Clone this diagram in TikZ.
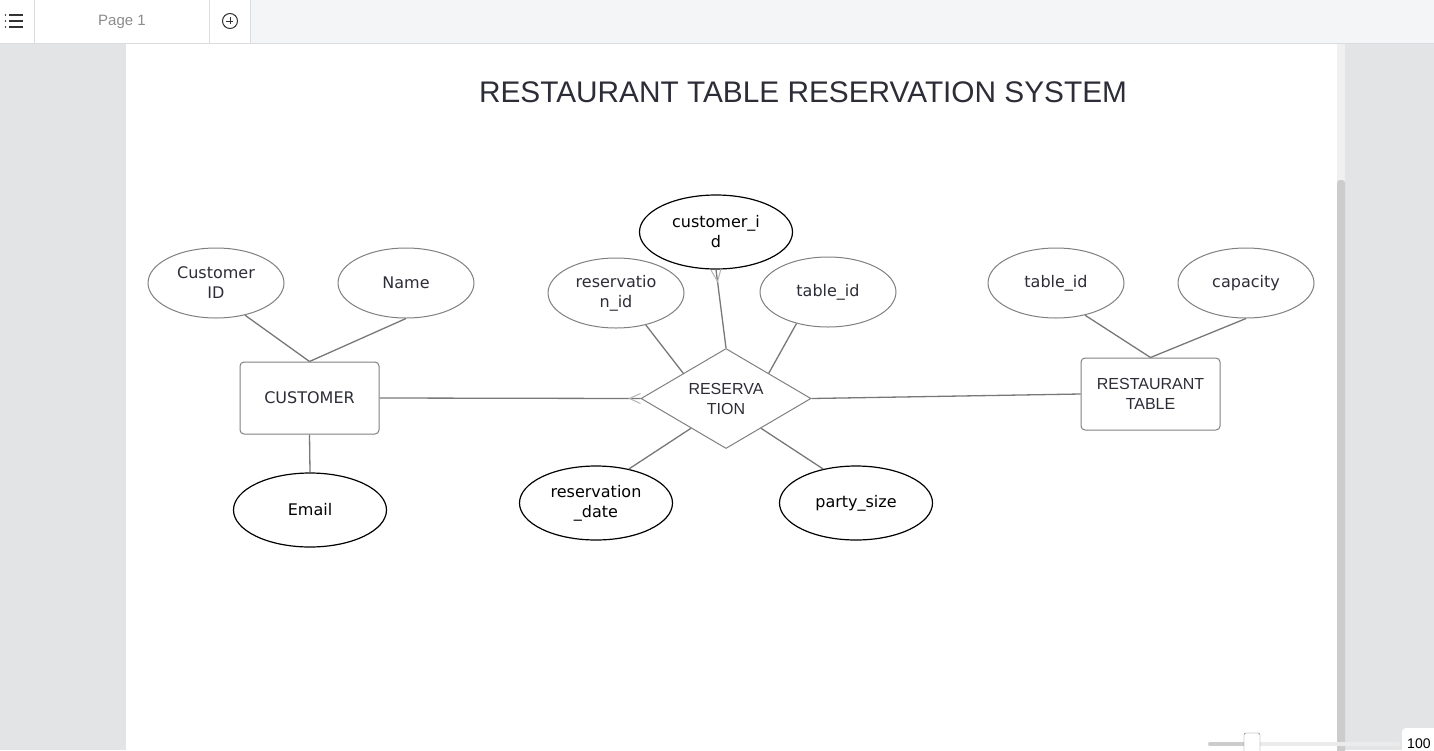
\documentclass[tikz,border=0pt]{standalone}
\usepackage{xcolor}
\usepackage{tikz}
\usepackage{fontspec}
\usetikzlibrary{shapes,arrows,positioning,calc}
\setmainfont{DejaVu Sans}
\newfontfamily\arialfont{Liberation Sans}
\definecolor{canvasgray}{RGB}{227,228,230}
\definecolor{barbg}{RGB}{244,245,247}
\definecolor{barline}{RGB}{218,220,224}
\definecolor{edgegray}{RGB}{120,120,120}
\definecolor{shapegray}{RGB}{128,128,128}
\definecolor{inkdark}{RGB}{45,45,55}
\definecolor{markgray}{RGB}{180,180,180}

\begin{document}
\begin{tikzpicture}[x=1pt,y=-1pt,
  ent/.style={draw=shapegray,line width=1pt,rounded corners=4pt,fill=white,minimum width=139pt,
              minimum height=72pt,align=center,text=inkdark},
  attr/.style={ellipse,draw=shapegray,line width=1pt,fill=white,minimum width=136pt,minimum height=70pt,
               inner sep=0pt,align=center,text=inkdark,font=\fontsize{16}{20}\selectfont},
  keyattr/.style={ellipse,draw=black,line width=1.2pt,fill=white,minimum width=153pt,
                  minimum height=74pt,inner sep=0pt,align=center,font=\fontsize{16}{20}\selectfont},
  rel/.style={diamond,draw=shapegray,line width=1pt,fill=white,minimum width=170pt,minimum height=100pt,
              aspect=1.7,inner sep=0pt,align=center,text=inkdark,
              font=\arialfont\fontsize{16}{20}\selectfont},
  ln/.style={draw=edgegray,line width=1.3pt},
  cf/.style={draw=markgray,line width=1pt}
]
\useasboundingbox (0,0) rectangle (1434,750);
% Editor chrome
\fill[canvasgray] (0,0) rectangle (1434,750);
\fill[barbg] (0,0) rectangle (1434,43);
\fill[white] (0,0) rectangle (250,43);
\draw[barline] (0,43.5) -- (1434,43.5);
\draw[barline] (34.5,0) -- (34.5,43) (209.5,0) -- (209.5,43) (250.5,0) -- (250.5,43);
\foreach \y in {15,21,27} {
  \fill[black!80] (5.5,\y) circle (0.9);
  \draw[black!80,line width=1.1pt] (9,\y) -- (23,\y);
}
\node[text=black!45,font=\arialfont\fontsize{15}{18}\selectfont] (pagetab) at (122,22) {Page 1};
\node[draw=black!80,circle,line width=1pt,minimum size=15pt,inner sep=0pt] (addpage) at (230,21) {};
\draw[black!80,line width=1pt] (addpage.west) ++(4,0) -- ++(7,0) (addpage.north) ++(0,4) -- ++(0,7);
\fill[white] (126,44) rectangle (1337,750);
\fill[black!6] (1337,44) rectangle (1345,750);
\fill[black!20,rounded corners=3pt] (1337,180) rectangle (1345,760);
% zoom slider
\fill[white,rounded corners=4pt] (1402,728) rectangle (1440,760);
\draw[black!8,line width=4pt,line cap=round] (1210,744) -- (1398,744);
\draw[black!20,line width=4pt,line cap=round] (1210,744) -- (1250,744);
\node[draw=black!55,fill=white,rounded corners=2pt,minimum width=16pt,minimum height=22pt] (slider) at (1252,744) {};
\node[text=black,font=\arialfont\fontsize{14}{16}\selectfont,anchor=west,inner sep=0pt] (zoomval) at (1407,744) {100};

% Title
\node[text=inkdark,font=\arialfont\fontsize{29.8}{34}\selectfont] (title) at (803,92)
  {RESTAURANT TABLE RESERVATION SYSTEM};

% Left: CUSTOMER and its attributes
\node[attr] (custid) at (216,283) {Customer\\ID};
\node[attr] (name)   at (406,283) {Name};
\node[ent,font=\fontsize{16}{20}\selectfont] (cust) at (309.5,398) {CUSTOMER};
\node[keyattr] (email) at (310,510) {Email};

% Middle: RESERVATION and its attributes
\node[rel] (res) at (726,398.5) {RESERVA\\TION};
\node[keyattr] (rcustid) at (716,232) {customer\_i\\d};
\node[attr] (resid)  at (616,293) {reservatio\\n\_id};
\node[attr] (rtabid) at (828,292) {table\_id};
\node[keyattr] (resdate) at (596,503) {reservation\\\_date};
\node[keyattr] (psize)   at (856,503) {party\_size};

% Right: RESTAURANT TABLE and its attributes
\node[ent,font=\arialfont\fontsize{16}{20}\selectfont] (rtable) at (1150.5,394) {RESTAURANT\\TABLE};
\node[attr] (tabid) at (1056,283) {table\_id};
\node[attr] (cap)   at (1246,283) {capacity};

% Attribute links
\draw[ln] (custid.-48) -- (cust.north);
\draw[ln] (name.south) -- (cust.north);
\draw[ln] (cust.south) -- (email.north);
\draw[ln] (resid.-47) -- ($(res.west)!0.5!(res.north)$);
\draw[ln] (rtabid.-135) -- ($(res.north)!0.5!(res.east)$);
\draw[ln] (resdate.46) -- ($(res.west)!0.59!(res.south)$);
\draw[ln] (psize.134) -- ($(res.south)!0.41!(res.east)$);
\draw[ln] (tabid.-48) -- (rtable.north);
\draw[ln] (cap.south) -- (rtable.north);
\draw[ln] (rcustid.south) -- (res.north);

% Relationship links
\draw[ln] (cust.east) -- (res.west);
\draw[ln] (res.east) -- (rtable.west);

% many markers
\draw[cf] ($(res.west)!5pt!90:(cust.east)$) -- ($(res.west)!11pt!(cust.east)$)
  -- ($(res.west)!5pt!-90:(cust.east)$);
\draw[cf] ($(rcustid.south)!5pt!90:(res.north)$) -- ($(rcustid.south)!12pt!(res.north)$)
  -- ($(rcustid.south)!5pt!-90:(res.north)$);
\end{tikzpicture}
\end{document}
